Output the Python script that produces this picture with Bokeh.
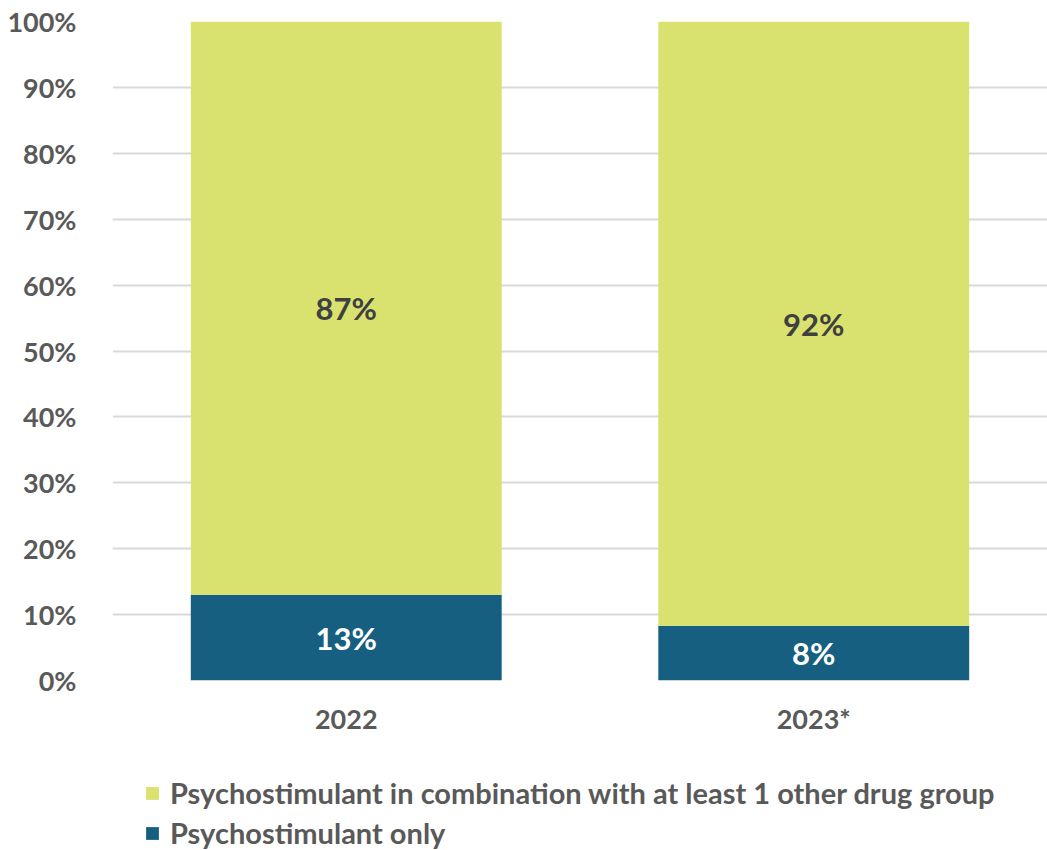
from bokeh.plotting import figure
from bokeh.layouts import column
from bokeh.models import Range1d, NumeralTickFormatter, Legend, LegendItem, ColumnDataSource, FixedTicker
from bokeh.core.properties import value
from bokeh.embed import file_html
from bokeh.resources import INLINE

years = ["2022", "2023*"]
only = [0.13, 0.083]
combo = [0.87, 0.917]
only_labels = ["13%", "8%"]
combo_labels = ["87%", "92%"]
series_names = ["Psychostimulant in combination with at least 1 other drug group", "Psychostimulant only"]

GREEN = "#D9E26F"
BLUE = "#175F80"
GREY = "#595959"
FONT = "Lato"

src = ColumnDataSource(dict(
    x=years, only=only, combo=combo,
    only_mid=[v / 2 for v in only],
    combo_mid=[o + c / 2 for o, c in zip(only, combo)],
    only_lab=only_labels, combo_lab=combo_labels,
))

p = figure(x_range=years, y_range=Range1d(0, 1), frame_width=935, frame_height=659,
           output_backend="svg", toolbar_location=None,
           min_border_left=112, min_border_right=0, min_border_top=21, min_border_bottom=49)
p.outline_line_color = None
p.background_fill_color = "white"

p.vbar_stack(["only", "combo"], x="x", width=0.665, source=src,
             color=[BLUE, GREEN], line_color=None)

p.text(x="x", y="only_mid", text="only_lab", source=src, text_align="center",
       text_baseline="middle", text_color="white", text_font=value(FONT),
       text_font_style="bold", text_font_size="31px")
p.text(x="x", y="combo_mid", text="combo_lab", source=src, text_align="center",
       text_baseline="middle", text_color="#404040", text_font=value(FONT),
       text_font_style="bold", text_font_size="31px")

p.yaxis.ticker = FixedTicker(ticks=[i / 10 for i in range(11)])
p.yaxis.formatter = NumeralTickFormatter(format="0%")
p.yaxis.axis_line_color = None
p.yaxis.major_tick_line_color = None
p.yaxis.minor_tick_line_color = None
p.yaxis.major_label_text_font = FONT
p.yaxis.major_label_text_font_style = "bold"
p.yaxis.major_label_text_font_size = "27px"
p.yaxis.major_label_text_color = GREY
p.yaxis.major_label_standoff = 30

p.xaxis.axis_line_color = None
p.xaxis.major_tick_line_color = None
p.xaxis.major_label_text_font = FONT
p.xaxis.major_label_text_font_style = "bold"
p.xaxis.major_label_text_font_size = "27px"
p.xaxis.major_label_text_color = GREY
p.xaxis.major_label_standoff = 15

p.xgrid.grid_line_color = None
p.ygrid.grid_line_color = "#D9D9D9"
p.ygrid.grid_line_width = 2

# legend strip: same series drawn into a range that keeps the bars out of view
p2 = figure(x_range=years, y_range=Range1d(5, 6), width=1047, height=113,
            output_backend="svg", toolbar_location=None,
            min_border_left=0, min_border_right=0, min_border_top=0, min_border_bottom=0)
p2.axis.visible = False
p2.grid.grid_line_color = None
p2.outline_line_color = None
r2 = p2.vbar_stack(["only", "combo"], x="x", width=0.665, source=src,
                   color=[BLUE, GREEN], line_color=None)

legend = Legend(items=[
    LegendItem(label=series_names[0], renderers=[r2[1]]),
    LegendItem(label=series_names[1], renderers=[r2[0]]),
], location=(32, 0), orientation="vertical", padding=0, margin=0, spacing=5,
    glyph_width=16, glyph_height=16, label_text_font=FONT, label_text_font_style="bold",
    label_text_font_size="29px", label_text_color=GREY, label_standoff=10,
    border_line_color=None, background_fill_alpha=0)
p2.add_layout(legend, "center")

open("out.html", "w").write(file_html(column(p, p2, spacing=0), INLINE))
